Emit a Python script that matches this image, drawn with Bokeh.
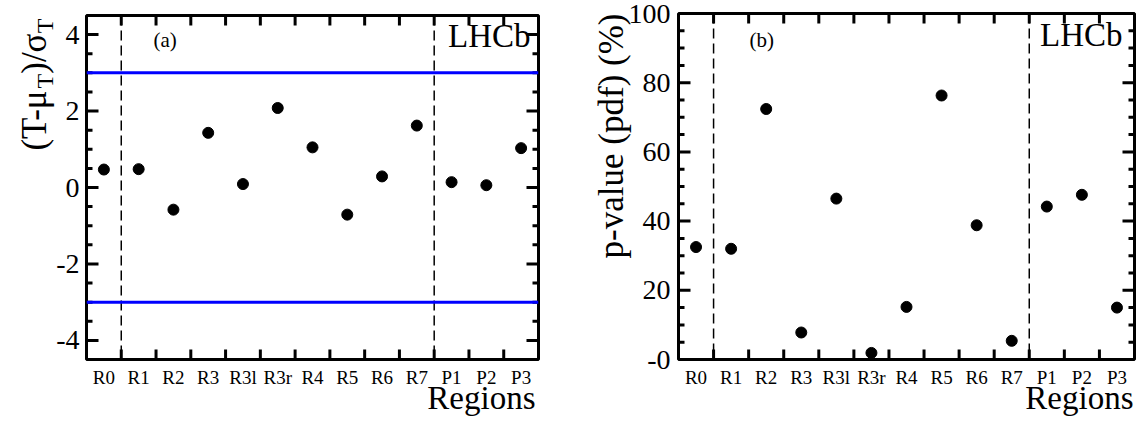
import numpy as np
from bokeh.plotting import figure
from bokeh.models import Span, Label, Range1d
from bokeh.core.properties import value
from bokeh.layouts import row, column
from bokeh.embed import file_html
from bokeh.resources import INLINE

# ---------------- data ----------------
regions = ["R0", "R1", "R2", "R3", "R3l", "R3r", "R4", "R5", "R6", "R7", "P1", "P2", "P3"]
pull = [0.47, 0.48, -0.58, 1.43, 0.09, 2.08, 1.05, -0.71, 0.29, 1.62, 0.14, 0.06, 1.03]
pvalue = [32.5, 32.0, 72.4, 7.8, 46.5, 1.9, 15.2, 76.3, 38.8, 5.4, 44.2, 47.6, 15.0]
band = [-3, 3]
separate_after = ["R0", "R7"]
pull_range = (-4.5, 4.5)
pull_step = 2
pvalue_range = (0, 100)
pvalue_step = 20
pull_title = ["(T-μ", "T", ")/σ", "T"]          # 2nd and 4th pieces are subscripts
pull_title_sub = [False, True, False, True]
pvalue_title = "p-value (pdf) (%)"
xtitle = "Regions"

FONT = "Liberation Serif"
MID = 0.3375          # distance baseline -> middle of the text box, in em
n = len(regions)
centers = [i + 0.5 for i in range(n)]
bounds = [i for i in range(1, n)]
seps = [regions.index(r) + 1 for r in separate_after]

B = 2          # border under the plot frames
ROW_H = 361    # height of the plot part
TOT_H = 417    # full height
HB = TOT_H - ROW_H

WID = {"(": 0.333, ")": 0.333, "T": 0.611, "-": 0.333, "μ": 0.5, "/": 0.278, "σ": 0.549}


def twidth(s, size):
    return sum(WID.get(c, 0.5) for c in s) * size


def tick_vals(lo, hi, step):
    first = np.ceil(lo / step - 1e-9) * step
    return [float(v) for v in np.arange(first, hi + step * 1e-6, step)]


def bare(left=0, right=0, top=0, bottom=0, **kw):
    f = figure(x_axis_type=None, y_axis_type=None, toolbar_location=None, title=None,
               output_backend="svg", min_border=0, min_border_left=left,
               min_border_right=right, min_border_top=top, min_border_bottom=bottom, **kw)
    f.grid.visible = False
    f.outline_line_color = None
    f.background_fill_color = "white"
    f.border_fill_color = "white"
    return f


def panel(yvals, yrange, interval, frame_w, frame_h, top, right):
    p = bare(left=2, right=right, top=top, bottom=B,
             frame_width=frame_w, frame_height=frame_h,
             x_range=Range1d(0, n), y_range=Range1d(*yrange))
    p.outline_line_color = "black"
    p.outline_line_width = 3
    lo, hi = yrange

    # x ticks (category boundaries) on bottom and top edges, pointing inwards
    p.ray(x=bounds, y=[lo] * len(bounds), length=10, length_units="screen",
          angle=np.pi / 2, line_color="black", line_width=3)
    p.ray(x=bounds, y=[hi] * len(bounds), length=10, length_units="screen",
          angle=-np.pi / 2, line_color="black", line_width=3)

    # y ticks on both vertical edges
    majors = tick_vals(lo, hi, interval)
    minors = [v for v in tick_vals(lo, hi, interval / 4)
              if min(abs(v - m) for m in majors) > 1e-9]
    for xe, ang in ((0, 0.0), (n, np.pi)):
        p.ray(x=[xe] * len(majors), y=majors, length=12, length_units="screen",
              angle=ang, line_color="black", line_width=3)
        p.ray(x=[xe] * len(minors), y=minors, length=6, length_units="screen",
              angle=ang, line_color="black", line_width=3)

    for s in seps:
        p.add_layout(Span(location=s, dimension="height", line_color="black",
                          line_width=1.5, line_dash="10 5"))

    p.scatter(x=centers, y=yvals, size=11, marker="circle", color="black")
    return p, majors


def side(width, yrange, top, frame_h):
    lo, hi = yrange
    ppu = frame_h / (hi - lo)
    ext = Range1d(lo - (TOT_H - top - frame_h) / ppu, hi + top / ppu)
    f = bare(frame_width=width, frame_height=TOT_H,
             x_range=Range1d(0, width), y_range=ext)
    return f, (lambda py: ext.end - py / ppu)


def tick_labels(f, majors, x_right):
    f.text(x=[x_right] * len(majors), y=majors, text=[f"{v:g}" for v in majors],
           text_font=value(FONT), text_font_size=value("28px"), text_color="black",
           text_align="right", text_baseline="middle")


def bottom(p, right, title_dx):
    f = bare(left=2, right=right, frame_width=p.frame_width, frame_height=HB,
             x_range=p.x_range, y_range=Range1d(0, HB))
    ylab = HB - (383 - ROW_H) + MID * 19
    f.text(x=centers, y=[ylab] * n, text=regions, text_font=value(FONT),
           text_font_size=value("19px"), text_color="black",
           text_align="center", text_baseline="middle")
    yt = HB - (409 - ROW_H) + MID * 33
    f.text(x=[n], y=[yt], x_offset=title_dx, text=[xtitle], text_font=value(FONT),
           text_font_size=value("33px"), text_color="black",
           text_align="right", text_baseline="middle")
    return f


def corner_text(p, x, y, dx, dy, text, size, align):
    p.add_layout(Label(x=x, y=y, x_offset=dx, y_offset=dy, text=text,
                       text_font=FONT, text_font_size=f"{size}px", text_align=align,
                       text_baseline="middle", text_color="black"))


# ---------------- panel (a) ----------------
p1, maj1 = panel(pull, pull_range, pull_step, 452, 344, 15, 2)
for b in band:
    p1.add_layout(Span(location=b, dimension="width", line_color="#0000ff", line_width=3))
corner_text(p1, n, pull_range[1], -8, -20, "LHCb", 33, "right")
corner_text(p1, 0, pull_range[1], 67, -24, "(a)", 21, "left")

t1, to_y1 = side(84, pull_range, 15, 344)
tick_labels(t1, maj1, 79)
MAIN, SUB = 35, 24
sizes = [SUB if s else MAIN for s in pull_title_sub]
total = sum(twidth(t, s) for t, s in zip(pull_title, sizes))
cum = 0.0
for t, s, sub in zip(pull_title, sizes, pull_title_sub):
    base_x = 53 if sub else 46
    t1.text(x=[base_x - MID * s], y=[to_y1(18 + total - cum)], text=[t], angle=np.pi / 2,
            text_font=value(FONT), text_font_size=value(f"{s}px"),
            text_align="left", text_baseline="middle", text_color="black")
    cum += twidth(t, s)

# ---------------- panel (b) ----------------
p2, maj2 = panel(pvalue, pvalue_range, pvalue_step, 456, 346, 13, 6)
corner_text(p2, n, pvalue_range[1], -12, -21, "LHCb", 33, "right")
corner_text(p2, 0, pvalue_range[1], 71, -26, "(b)", 21, "left")

t2, to_y2 = side(136, pvalue_range, 13, 346)
tick_labels(t2, maj2, 130)
t2.text(x=[623 - 540 - MID * 35], y=[to_y2(13)], text=[pvalue_title], angle=np.pi / 2,
        text_font=value(FONT), text_font_size=value("35px"),
        text_align="right", text_baseline="middle", text_color="black")

# ---------------- bottom strips: category labels and x titles ----------------
b1 = bottom(p1, 2, -3)
b2 = bottom(p2, 6, -1)

layout = row(t1, column(p1, b1), t2, column(p2, b2))
open("out.html", "w").write(file_html(layout, INLINE))
